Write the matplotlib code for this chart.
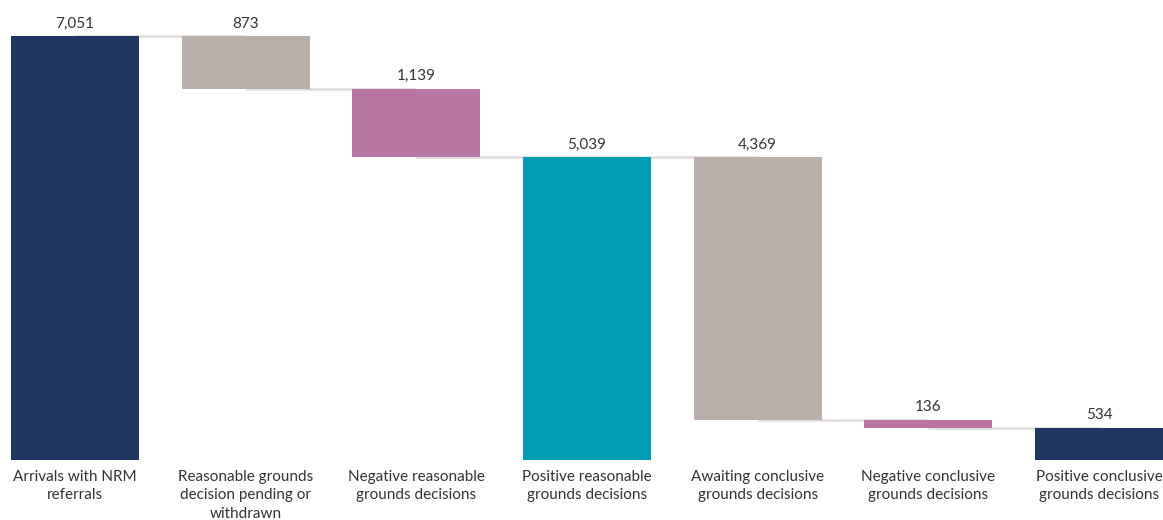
import matplotlib.pyplot as plt

# waterfall of NRM referral outcomes
categories = [
    "Arrivals with NRM\nreferrals",
    "Reasonable grounds\ndecision pending or\nwithdrawn",
    "Negative reasonable\ngrounds decisions",
    "Positive reasonable\ngrounds decisions",
    "Awaiting conclusive\ngrounds decisions",
    "Negative conclusive\ngrounds decisions",
    "Positive conclusive\ngrounds decisions",
]
values = [7051, 873, 1139, 5039, 4369, 136, 534]
is_total = [True, False, False, True, False, False, True]
colors = ["#203763", "#bab0ab", "#b877a3", "#009db4", "#bab0ab", "#b877a3", "#203763"]

plt.rcParams['font.family'] = ['Lato', 'DejaVu Sans']

fig = plt.figure(figsize=(11.63, 5.2), dpi=100)
ax = fig.add_axes([0, 60 / 520, 1, 460 / 520])

# work out the floating bars: totals sit on zero, the rest step down
bottoms = []
tops = []
level = 0
for v, tot in zip(values, is_total):
    if tot:
        bottoms.append(0)
        tops.append(v)
        level = v
    else:
        bottoms.append(level - v)
        tops.append(level)
        level = level - v

xs = list(range(len(values)))
ax.bar(xs, values, bottom=bottoms, width=0.75, color=colors, zorder=2)

# connectors from each bar to the next one
for i in range(len(values) - 1):
    y = bottoms[i] if not is_total[i] else tops[i]
    if not is_total[i + 1]:
        y = tops[i + 1]
    ax.plot([xs[i], xs[i + 1]], [y, y], color="#e3dcdc", lw=1.8, zorder=1,
            solid_capstyle="butt")

for x, v, t in zip(xs, values, tops):
    ax.text(x, t + 90, f"{v:,}", ha="center", va="bottom", fontsize=11, color="#333333")

for x, c in zip(xs, categories):
    ax.text(x, -165, c, ha="center", va="top", fontsize=11, color="#333333",
            linespacing=1.4)

ax.set_xlim(-0.44, 6.375)
ax.set_ylim(0, 7650)
ax.axis("off")

fig.savefig("out.png", dpi=100)
